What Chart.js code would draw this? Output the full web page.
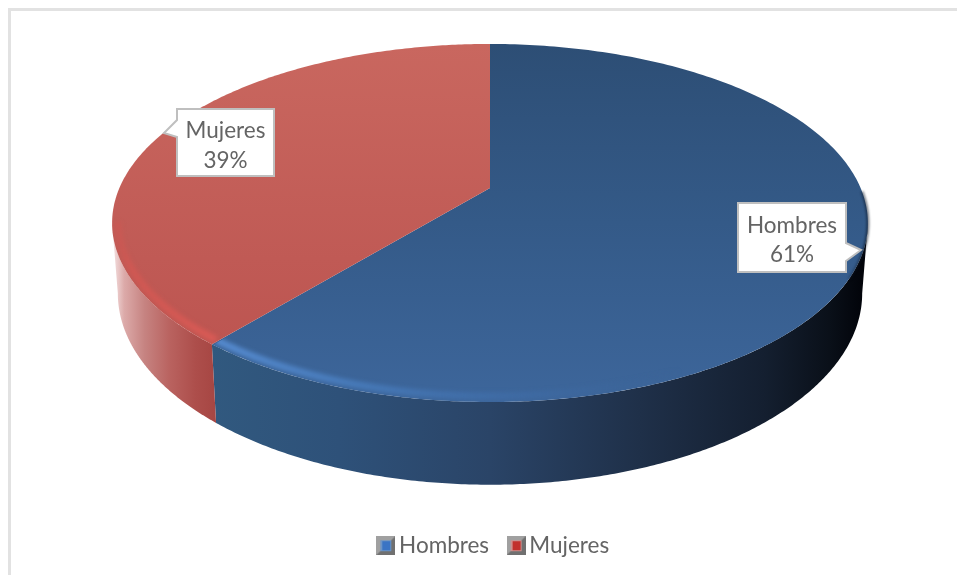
<!DOCTYPE html>
<html><head><meta charset="utf-8">
<style>html,body{margin:0;padding:0;background:#fff;overflow:hidden}
#wrap{position:absolute;left:0;top:0;width:957px;height:575px;overflow:hidden}
#frame{position:absolute;left:8px;top:8px;width:960px;height:600px;border-top:3px solid #e2e2e2;border-left:3px solid #e2e2e2;box-sizing:border-box}
canvas{position:absolute;left:0;top:0;filter:blur(0.45px)}</style>
<script src="https://cdn.jsdelivr.net/npm/chart.js@4"></script>
</head><body><div id="wrap"><div id="frame"></div><canvas id="c" width="957" height="575"></canvas></div>
<script>
const categories = ['Hombres', 'Mujeres'];
const percentages = [61, 39];

const FONT = 'Lato, Carlito, sans-serif';
const TEXT = '#646464';
const topFace = {cx:490, cy:188, a:172.2, b:370.6, k:-0.1955};
const baseFace = {cx:490, cy:256, a:184, b:365, k:-0.1955};
const bevelFace = {cx:490, cy:188, a:167.4, b:365, k:-0.1955};
const clipFace = {cx:490, cy:188, a:225, b:480, k:-0.1955};
const RIGHT_EDGE = 0.197, LEFT_EDGE = 2.945;
const project = (f, t) => {
  const x = Math.cos(t), y = Math.sin(t), w = 1 + f.k*y;
  return [f.cx + f.b*x/w, f.cy + f.a*y/w];
};
const linear = (ctx, x0, y0, x1, y1, stops) => {
  const g = ctx.createLinearGradient(x0,y0,x1,y1);
  stops.forEach(s => g.addColorStop(s[0], s[1]));
  return g;
};
const rim = (ctx, f, s, e, rev) => {
  const n = 240;
  for (let i=0;i<=n;i++){
    const t = rev ? e-(e-s)*i/n : s+(e-s)*i/n;
    const p = project(f,t);
    ctx.lineTo(p[0],p[1]);
  }
};
const styles = [
 { wall:[[0,'#31597f'],[0.2,'#2e5179'],[0.43,'#2a4467'],[0.66,'#1f3049'],[0.85,'#141f30'],[0.95,'#0a1019'],[1,'#02040a']],
   wx0:209, wx1:862,
   face:[[0,'#2d4e75'],[0.5,'#345a88'],[1,'#3d669b']],
   rimc:[[0,'rgba(88,142,212,0.95)'],[0.25,'rgba(72,124,188,0.9)'],[0.55,'rgba(64,110,170,0.5)'],[0.8,'rgba(60,100,150,0)']],
   rx0:209, rx1:800 },
 { wall:[[0,'#f2dcdc'],[0.1,'#dcaaa9'],[0.3,'#c68381'],[0.55,'#b9625f'],[0.8,'#ad4e4b'],[1,'#a64643']],
   wx0:114, wx1:216,
   face:[[0,'#c9675f'],[0.6,'#c05a55'],[1,'#bb524e']],
   rimc:[[0,'rgba(208,85,80,0.3)'],[0.2,'rgba(210,88,83,0.85)'],[1,'rgba(216,90,85,1)']],
   rx0:112, rx1:212 }
];

const perspectivePie = {
  id:'perspectivePie',
  beforeDatasetsDraw(chart){
    const ctx = chart.ctx, arcs = chart.getDatasetMeta(0).data;
    ctx.save();
    ctx.lineJoin='round';
    arcs.forEach((a,i)=>{
      const st = styles[i];
      const lo = Math.max(a.startAngle, RIGHT_EDGE), hi = Math.min(a.endAngle, LEFT_EDGE);
      ctx.beginPath();
      rim(ctx, topFace, lo, hi, false);
      rim(ctx, baseFace, lo, hi, true);
      ctx.closePath();
      ctx.fillStyle = linear(ctx, st.wx0,0,st.wx1,0, st.wall);
      ctx.fill();
    });
    arcs.forEach((a,i)=>{
      const st = styles[i];
      ctx.beginPath();
      ctx.moveTo(topFace.cx, topFace.cy);
      rim(ctx, topFace, a.startAngle, a.endAngle, false);
      ctx.closePath();
      ctx.fillStyle = linear(ctx, 0,44,0,402, st.face);
      ctx.fill();
    });
    // soft front bevel, kept inside the slice's wedge and the solid's outline
    arcs.forEach((a,i)=>{
      const st = styles[i];
      const lo = Math.max(a.startAngle, RIGHT_EDGE), hi = Math.min(a.endAngle, LEFT_EDGE);
      ctx.save();
      ctx.beginPath();
      ctx.moveTo(topFace.cx, topFace.cy);
      rim(ctx, clipFace, a.startAngle, a.endAngle, false);
      ctx.closePath();
      ctx.clip();
      ctx.beginPath();
      rim(ctx, topFace, 0, 2*Math.PI, false);
      ctx.closePath();
      ctx.clip();
      ctx.filter='blur(2px)';
      ctx.beginPath();
      rim(ctx, bevelFace, lo, hi, false);
      ctx.strokeStyle = linear(ctx, st.rx0,0,st.rx1,0, st.rimc);
      ctx.lineWidth = 7;
      ctx.stroke();
      ctx.restore();
    });
    // dark shading on the right edge of the top face
    ctx.save();
    ctx.filter='blur(1.2px)';
    ctx.beginPath();
    rim(ctx, topFace, 0.02, 0.5, false);
    ctx.strokeStyle = linear(ctx, 835,0,866,0, [[0,'rgba(10,20,35,0)'],[1,'rgba(10,20,35,0.55)']]);
    ctx.lineWidth = 3;
    ctx.stroke();
    ctx.restore();
    ctx.restore();
    drawCallouts(chart);
    return false;
  }
};
const callouts = [
  {l:738,t:203,r:846,b:272, tip:[861,250], y0:243, y1:261, side:'r', ty:[226,255]},
  {l:177,t:109,r:274,b:176, tip:[164,133], y0:120, y1:137, side:'l', ty:[131,161]}
];
function drawCallouts(chart){
  const ctx = chart.ctx;
  const total = percentages.reduce((p,c)=>p+c,0);
  ctx.save();
  callouts.forEach((c,i)=>{
    ctx.beginPath();
    ctx.moveTo(c.l,c.t); ctx.lineTo(c.r,c.t);
    if(c.side==='r'){ ctx.lineTo(c.r,c.y0); ctx.lineTo(c.tip[0],c.tip[1]); ctx.lineTo(c.r,c.y1); }
    ctx.lineTo(c.r,c.b); ctx.lineTo(c.l,c.b);
    if(c.side==='l'){ ctx.lineTo(c.l,c.y1); ctx.lineTo(c.tip[0],c.tip[1]); ctx.lineTo(c.l,c.y0); }
    ctx.closePath();
    ctx.fillStyle='#fff'; ctx.fill();
    ctx.strokeStyle='#bfbfbf'; ctx.lineWidth=2; ctx.stroke();
    ctx.fillStyle=TEXT; ctx.font='22.5px '+FONT; ctx.textAlign='center'; ctx.textBaseline='middle';
    const mx=(c.l+c.r)/2;
    ctx.fillText(categories[i],mx,c.ty[0]);
    ctx.fillText(Math.round(percentages[i]/total*100)+'%',mx,c.ty[1]);
  });
  ctx.restore();
}
function swatch(core, mid){
  const s=document.createElement('canvas'); s.width=19; s.height=19;
  const x=s.getContext('2d');
  x.fillStyle='#707070'; x.fillRect(0,0,19,19);
  x.fillStyle='#a0a0a0'; x.beginPath(); x.moveTo(0,0);x.lineTo(19,0);x.lineTo(9.5,9.5);x.lineTo(0,19);x.fill();
  x.fillStyle=mid; x.fillRect(4,4,11,11);
  x.fillStyle=core; x.fillRect(6,5,8,9);
  return s;
}
const icons=[swatch('#3a74c4','#6b94c6'),swatch('#c2302c','#cf8f8d')];

new Chart(document.getElementById('c'),{
  type:'pie',
  data:{labels:categories,datasets:[{data:percentages,backgroundColor:['#365f91','#c0504d'],borderWidth:0}]},
  plugins:[perspectivePie],
  options:{
    responsive:false,animation:false,
    layout:{padding:{bottom:8,left:36}},
    plugins:{
      tooltip:{enabled:false},
      legend:{position:'bottom',
        labels:{usePointStyle:true,pointStyleWidth:4,boxHeight:19,padding:25,color:TEXT,font:{family:FONT,size:22.5},
          generateLabels(chart){
            return chart.data.labels.map((t,i)=>({text:t,pointStyle:icons[i],fontColor:TEXT,hidden:false,index:i,lineWidth:0}));
          }}}
    }
  }
});
</script></body></html>
